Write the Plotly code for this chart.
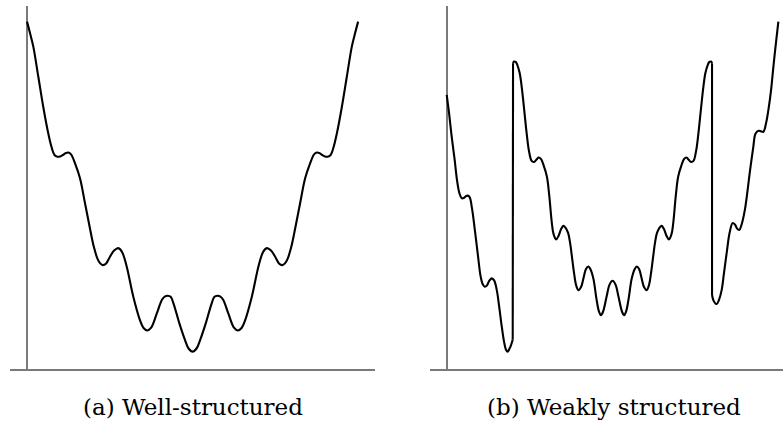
import plotly.graph_objects as go

# ---- Data (arbitrary units: x 0..100, y 0..100) ----
well_x = [0, 0.9, 1.9, 3.4, 4.9, 6.4, 7.4, 8.3, 9.2, 10.0, 10.8, 11.6, 12.5, 13.3, 14.5, 16.0,
          17.5, 19.0, 20.2, 21.3, 22.1, 22.9, 23.9, 25.1, 26.3, 27.6, 28.7, 30.1, 32.1, 34.1,
          35.2, 36.3, 37.5, 39.2, 40.8, 41.7, 42.5, 43.4, 44.3, 45.9, 47.7, 48.8, 50.0,
          51.2, 52.3, 54.1, 55.7, 56.6, 57.5, 58.3, 59.2, 60.8, 62.5, 63.7, 64.8, 65.9, 67.9,
          69.9, 71.3, 72.4, 73.7, 74.9, 76.1, 77.1, 77.9, 78.7, 79.8, 81.0, 82.5, 84.0, 85.5,
          86.7, 87.5, 88.4, 89.2, 90.0, 90.8, 91.7, 92.6, 93.6, 95.1, 96.6, 98.1, 99.1, 100]
well_y = [100, 96.7, 92.8, 84.2, 75.5, 67.9, 63.9, 61.6, 61.1, 61.2, 61.6, 62.1, 62.3, 61.8, 59.2, 54.9,
          47.8, 40.5, 35.1, 31.7, 30.4, 29.9, 30.4, 32.4, 34.1, 34.8, 33.7, 29.5, 20.8, 14.1,
          11.8, 11.1, 11.9, 16.0, 20.0, 20.9, 21.1, 20.8, 18.7, 13.5, 8.4, 5.9, 5.0,
          5.9, 8.4, 13.5, 18.7, 20.8, 21.1, 20.9, 20.0, 16.0, 11.9, 11.1, 11.8, 14.1, 20.8,
          29.5, 33.7, 34.8, 34.1, 32.4, 30.4, 29.9, 30.4, 31.7, 35.1, 40.5, 47.8, 54.9, 59.2,
          61.8, 62.3, 62.1, 61.6, 61.2, 61.1, 61.6, 63.9, 67.9, 75.5, 84.2, 92.8, 96.7, 100]

weak_x = [0, 0.7, 1.5, 2.4, 3.1, 3.8, 4.5, 5.1, 5.7, 6.3, 6.9, 7.6, 8.6, 9.5, 10.2, 10.9,
          11.5, 12.1, 12.9, 13.6, 14.3, 15.1, 15.8, 16.6, 17.3, 17.9, 18.4, 18.9, 19.4, 19.9,
          20.0, 20.3, 20.8, 21.3, 22.0, 22.6, 23.3, 24.1, 24.8, 25.6, 26.3, 27.1, 27.7, 28.4,
          29.2, 30.2, 30.9, 31.7, 32.2, 33.0, 33.7, 34.5, 35.2, 35.8, 36.6, 37.2, 37.8, 38.4,
          39.0, 39.7, 40.5, 41.4, 42.0, 42.7, 43.3, 44.2, 45.2, 45.9, 46.5, 47.1, 48.2, 49.1,
          50.0,
          50.9, 51.8, 52.9, 53.5, 54.1, 54.8, 55.8, 56.7, 57.3, 58.0, 58.6, 59.5, 60.3, 61.0,
          61.6, 62.2, 62.8, 63.4, 64.2, 64.8, 65.5, 66.3, 67.0, 67.8, 68.3, 69.1, 69.8, 70.8,
          71.6, 72.3, 72.9, 73.7, 74.4, 75.2, 75.9, 76.7, 77.4, 78.0, 78.7, 79.2, 79.7, 80.0,
          80.0, 80.5, 81.4, 82.1, 82.9, 83.6, 84.4, 85.3, 86.2, 86.9, 87.5, 88.2, 88.8, 89.9,
          91.4, 92.4, 93.1, 94.0, 94.8, 95.5, 96.3, 97.0, 97.8, 98.5, 99.3, 100]
weak_y = [78.9, 73.7, 66.9, 60.2, 54.4, 50.7, 49.2, 49.2, 49.7, 49.9, 49.5, 46.4, 39.1, 32.0, 26.8, 24.3,
          23.7, 24.0, 25.5, 26.1, 25.5, 22.7, 18.1, 12.2, 7.8, 5.5, 5.0, 5.8, 6.9, 8.4,
          88.0, 88.5, 88.4, 87.5, 85.2, 81.3, 75.2, 67.9, 62.8, 59.9, 59.6, 60.3, 60.9, 60.5,
          58.7, 55.4, 50.1, 42.0, 38.9, 37.3, 38.3, 40.3, 41.2, 40.7, 39.2, 36.3, 32.0, 27.6,
          24.2, 22.7, 23.6, 26.8, 28.8, 29.5, 28.8, 26.1, 19.9, 16.6, 15.5, 16.4, 20.8, 24.3,
          25.4,
          24.3, 20.8, 16.4, 15.5, 16.6, 19.9, 26.1, 28.8, 29.5, 28.8, 26.8, 23.6, 22.7, 24.2,
          27.6, 32.0, 36.3, 39.2, 40.7, 41.2, 40.3, 38.3, 37.3, 38.9, 42.0, 50.1, 55.4, 58.7,
          60.5, 60.9, 60.3, 59.6, 59.9, 62.8, 67.9, 75.2, 81.3, 85.2, 87.5, 88.4, 88.5, 88.0,
          21.3, 19.6, 18.7, 19.9, 22.7, 27.6, 33.3, 39.2, 42.0, 41.6, 40.5, 40.0, 41.2, 45.8,
          56.7, 63.6, 67.7, 68.6, 68.4, 68.3, 70.8, 74.6, 80.3, 87.0, 94.1, 100]

captions = ["(a) Well-structured", "(b) Weakly structured"]

AXIS_COLOR = "#7a7a7a"
LINE_COLOR = "#000000"

fig = go.Figure()


def add_segments(xs, ys, axis):
    # split at vertical jumps so the smooth spline does not overshoot them
    seg_x, seg_y = [xs[0]], [ys[0]]
    for i in range(1, len(xs)):
        if abs(ys[i] - ys[i - 1]) > 30:
            fig.add_trace(go.Scatter(x=seg_x, y=seg_y, mode="lines",
                                     line=dict(color=LINE_COLOR, width=2.1, shape="spline", smoothing=1.0),
                                     xaxis="x" + axis, yaxis="y" + axis, hoverinfo="skip"))
            fig.add_trace(go.Scatter(x=[xs[i - 1], xs[i]], y=[ys[i - 1], ys[i]], mode="lines",
                                     line=dict(color=LINE_COLOR, width=2.1),
                                     xaxis="x" + axis, yaxis="y" + axis, hoverinfo="skip"))
            seg_x, seg_y = [xs[i]], [ys[i]]
        else:
            seg_x.append(xs[i])
            seg_y.append(ys[i])
    fig.add_trace(go.Scatter(x=seg_x, y=seg_y, mode="lines",
                             line=dict(color=LINE_COLOR, width=2.1, shape="spline", smoothing=1.0),
                             xaxis="x" + axis, yaxis="y" + axis, hoverinfo="skip"))


add_segments(well_x, well_y, "")
add_segments(weak_x, weak_y, "2")

W, H = 783, 428
ydom = [(H - 369) / H, (H - 6) / H]

common_x = dict(showgrid=False, showticklabels=False, ticks="", zeroline=True,
                zerolinecolor=AXIS_COLOR, zerolinewidth=1.5,
                showline=True, linecolor=AXIS_COLOR, linewidth=1.5, fixedrange=True)
common_y = dict(showgrid=False, showticklabels=False, ticks="", zeroline=False,
                showline=False, range=[0, 104.5], domain=ydom, fixedrange=True)

cap_font = dict(family="DejaVu Serif", size=23, color="#000")

fig.update_layout(
    width=W, height=H,
    margin=dict(l=0, r=0, t=0, b=0),
    paper_bgcolor="white", plot_bgcolor="white",
    showlegend=False,
    xaxis=dict(common_x, domain=[10 / W, 375 / W], range=[-5.14, 105.1], anchor="y"),
    yaxis=dict(common_y, anchor="x"),
    xaxis2=dict(common_x, domain=[430 / W, 1.0], range=[-5.04, 101.4], anchor="y2"),
    yaxis2=dict(common_y, anchor="x2"),
    annotations=[
        dict(text=captions[0], x=193 / W, y=(H - 407) / H, xref="paper", yref="paper",
             showarrow=False, xanchor="center", yanchor="middle", font=cap_font),
        dict(text=captions[1], x=614 / W, y=(H - 407) / H, xref="paper", yref="paper",
             showarrow=False, xanchor="center", yanchor="middle", font=cap_font),
    ],
)

fig.write_html("out.html")
